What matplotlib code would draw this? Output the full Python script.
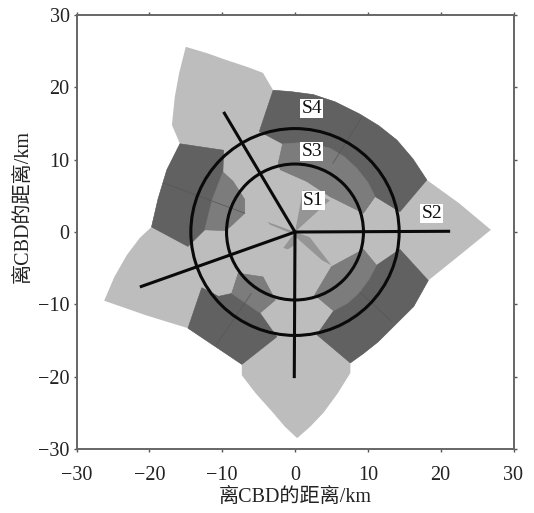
import matplotlib.pyplot as plt
from matplotlib.patches import Circle, Polygon

plt.rcParams["font.family"] = ["Liberation Serif", "Noto Sans CJK SC"]
plt.rcParams["axes.unicode_minus"] = True

ticks = [-30, -20, -10, 0, 10, 20, 30]

# whole study area, light grey
outline = [(-15, 25.6), (-12, 24.7), (-9.5, 23.8), (-6.5, 22.8), (-4.4, 22), (-3, 19.6), (-0.5, 19.4), (2.5, 19),
           (5.5, 18), (8.9, 16.3), (11.5, 14.7), (14, 12.7), (16.2, 10.1), (18.1, 7.2), (22.5, 4), (26.9, 0.3),
           (22.5, -3.3), (18.3, -6.7), (16.3, -10.3), (13.5, -13.1), (11.4, -15.2), (9.4, -16.8),
           (7.6, -18.1), (7.6, -19.5), (5.8, -22.4), (3.9, -25), (2.1, -26.9), (0.3, -28.5), (-1.4, -26.9),
           (-3, -25), (-5.4, -22.3), (-7.3, -19.8), (-7.3, -18.3), (-11, -15.8), (-14.7, -13.3),
           (-20.5, -11.5), (-26.2, -9.5), (-24.8, -6.2), (-23.1, -3.2), (-21.3, -0.8), (-19.7, 0.7), (-18.8, 4.6),
           (-17.6, 8.6), (-15.8, 12.2), (-16.9, 14.8), (-16.5, 18.7), (-15.9, 22)]

# S4 ring, dark grey
s4_blocks = [
    [(-3, 19.6), (-0.5, 19.4), (2.5, 19), (5.5, 18), (8.9, 16.3), (11.5, 14.7), (14, 12.7), (16.2, 10.1),
     (18.1, 7.2), (14.4, 2.8), (11, 4.9), (10, 6.9), (8.5, 8.8), (6.8, 10.4), (4.8, 11.6), (1.5, 12.4),
     (-1.7, 12.2), (-4.9, 13.9)],
    [(14.4, -2.4), (18.3, -6.7), (16.3, -10.3), (13.5, -13.1), (11.4, -15.2), (9.4, -16.8), (7.6, -18.1),
     (3, -14.2), (5.3, -10.9), (7.3, -9.8), (8.9, -8.3), (10.2, -6.5), (11.2, -4.6)],
    [(-12.8, -7.7), (-14.7, -13.3), (-11, -15.8), (-7.3, -18.3), (-2.5, -14.5), (-4.8, -11.2),
     (-8.7, -8.5), (-10.5, -8.9)],
    [(-15.8, 12.2), (-17.6, 8.6), (-18.8, 4.6), (-19.7, 0.7), (-14.7, -2), (-12.4, 0.3), (-11.4, 4.4),
     (-9.9, 8.3), (-9.8, 11.3)],
]

# S3 ring, medium grey
s3_blocks = [
    [(-1.7, 12.2), (1.5, 12.4), (4.8, 11.6), (6.8, 10.4), (8.5, 8.8), (10, 6.9), (11, 4.9), (9.4, 2.6),
     (4.8, 4.9), (1.6, 7), (-2, 8.6), (-2.3, 9.5)],
    [(9.4, -2.4), (11.2, -4.6), (10.2, -6.5), (8.9, -8.3), (7.3, -9.8), (5.3, -10.9), (2.7, -8.7), (5, -4.8)],
    [(-8.7, -8.5), (-4.8, -11.2), (-2.7, -9.4), (-4.4, -6.2), (-7.8, -5.7)],
    [(-9.9, 8.3), (-8.5, 7), (-6.9, 4.5), (-6.9, 2.6), (-8.8, 0.8), (-9.6, 0.2), (-12.4, 0.3),
     (-11.4, 4.4)],
]

# narrow wedges running out of the centre
wedges = [
    [(0, 0), (1.1, 5.8), (4.8, 4.4)],
    [(0, 0), (2, -0.7), (5, -4.6), (3.7, -3.9), (0, -0.6)],
    [(0, 0), (-3.8, 1.4), (-3.4, 1), (-0.5, -0.2)],
    [(0, 0), (-1.6, -2.2), (-1, -2.4), (0, -1.8)],
]

# thin dark seams between the blocks
seam_x = [(9.2, 5.2), (8.9, 13.3), (-10.8, -6), (-18.1, -6.9)]
seam_y = [(15.9, 9.5), (-8.3, -12.4), (-15.6, -8.5), (6.8, 2.6)]

ray_ends_x = [-9.8, 21.3, -0.1, -21.3]
ray_ends_y = [16.6, 0.1, -20.2, -7.6]
ring_radii = [9.4, 14.3]

ring_labels = ["S4", "S3", "S1", "S2"]
label_x = [2.3, 2.3, 2.5, 18.8]
label_y = [17.1, 11.1, 4.4, 2.6]

fig = plt.figure(figsize=(5.34, 5.13), dpi=100)
ax = fig.add_axes([76.5 / 534, 1 - 449 / 513, 437 / 534, 434 / 513])

ax.add_patch(Polygon(outline, fc="#bdbdbd", ec="none", zorder=1))
for block in s4_blocks:
    ax.add_patch(Polygon(block, fc="#616161", ec="#5c5c5c", lw=0.4, zorder=2))
for block in s3_blocks:
    ax.add_patch(Polygon(block, fc="#7c7c7c", ec="#747474", lw=0.4, zorder=3))
for wedge in wedges:
    ax.add_patch(Polygon(wedge, fc="#959595", ec="none", zorder=3))
for xs, ys in zip(seam_x, seam_y):
    ax.plot(xs, ys, c="#555555", lw=0.5, zorder=3.5)

for r in ring_radii:
    ax.add_patch(Circle((0, 0), r, fc="none", ec="#0a0a0a", lw=2.2, zorder=4))
for x, y in zip(ray_ends_x, ray_ends_y):
    ax.plot([0, x], [0, y], c="#0a0a0a", lw=2.2, solid_capstyle="butt", zorder=4)

for name, x, y in zip(ring_labels, label_x, label_y):
    ax.text(x, y, name, size=14, ha="center", va="center", color="#111111", zorder=5,
            bbox=dict(fc="white", ec="none", pad=0.8))

ax.set_xlim(-30, 30)
ax.set_ylim(-30, 30)
ax.set_xticks(ticks)
ax.set_yticks(ticks)
ax.tick_params(axis="both", labelsize=14.5, length=2, width=1.0, color="#555555",
               top=True, right=True, labelcolor="#222222")
ax.tick_params(axis="x", pad=10)
ax.tick_params(axis="y", pad=3)
for spine in ax.spines.values():
    spine.set_color("#666666")
    spine.set_linewidth(1.4)

fig.text(295 / 534, 1 - 497 / 513, "离CBD的距离/km", size=14.5, ha="center", va="center", color="#222222")
fig.text(23 / 534, 1 - 207 / 513, "离CBD的距离/km", size=14.5, ha="center", va="center",
         rotation=90, color="#222222")

fig.savefig("out.png", dpi=100)
